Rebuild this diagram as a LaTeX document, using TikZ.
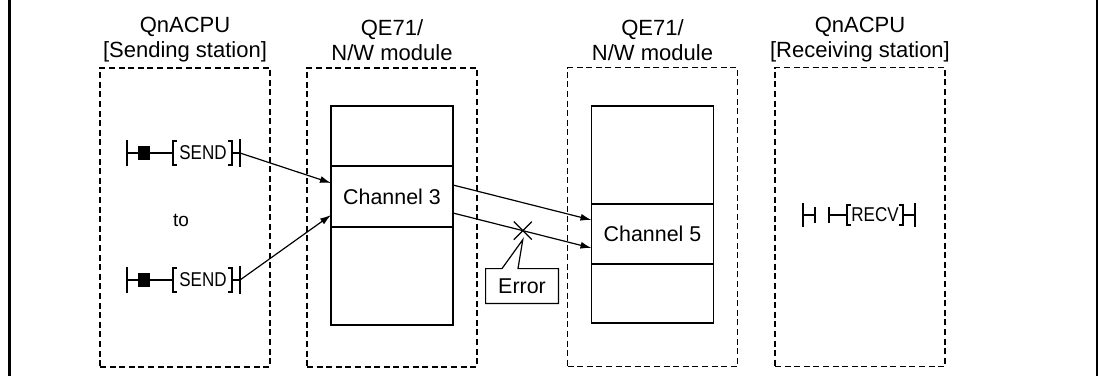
\documentclass[tikz,border=0pt]{standalone}
\usepackage{fontspec}
\setmainfont{Liberation Sans}
\newfontfamily\narrowsans[FakeStretch=0.85]{Liberation Sans}
\usetikzlibrary{positioning,arrows.meta}

\begin{document}
\begin{tikzpicture}[
  x=0.5pt, y=-0.5pt,
  zone/.style={draw, dash pattern=on 3pt off 1.8pt, line width=0.55pt, minimum width=85pt, minimum height=149.5pt, inner sep=0pt},
  title/.style={align=center, font=\fontsize{11}{12.5}\selectfont},
  cell/.style={draw, line width=0.7pt, minimum width=61pt, inner sep=0pt, outer sep=0pt, font=\fontsize{10.7}{12.5}\selectfont},
  instr/.style={inner sep=0pt, font=\narrowsans\fontsize{10}{11}\selectfont},
  rung/.style={line width=0.6pt},
  arr/.style={-{Latex[length=5.5pt,width=3.5pt]}, line width=0.6pt}
]
\useasboundingbox (0,0) rectangle (1099,376);
\draw[line width=1.5pt] (9,0) -- (9,376);
\draw[line width=0.8pt] (1097,0) -- (1097,376);

\node[zone] (sender) at (185,217.5) {};
\node[zone] (qeA) at (392,217.5) {};
\node[zone] (qeB) at (652.5,217) {};
\node[zone] (receiver) at (860,217) {};
\node[title] (tSender) at (185,40) {QnACPU\\{[Sending station]}};
\node[title] (tQeA) at (392,40) {QE71/\\N/W module};
\node[title] (tQeB) at (652.5,40) {QE71/\\N/W module};
\node[title] (tReceiver) at (860,40) {QnACPU\\{[Receiving station]}};

\node[cell, minimum height=30pt] (ch3top) at (392,136) {};
\node[cell, minimum height=30.5pt, below=0pt of ch3top] (ch3) {Channel 3};
\node[cell, minimum height=49pt, below=0pt of ch3] (ch3bot) {};
\node[cell, minimum height=49pt] (ch5top) at (652.5,155) {};
\node[cell, minimum height=30pt, below=0pt of ch5top] (ch5) {Channel 5};
\node[cell, minimum height=29.5pt, below=0pt of ch5] (ch5bot) {};

\foreach \y/\n in {153/1,280/2} {
  \draw[rung] (127,\y-13) -- (127,\y+13);
  \draw[rung] (127,\y) -- (173,\y);
  \fill (138,\y-7) rectangle (150,\y+7);
  \draw[rung] (177,\y-12) -- (173,\y-12) -- (173,\y+12) -- (177,\y+12);
  \node[instr] (send\n) at (203,\y) {SEND};
  \draw[rung] (228,\y-12) -- (232,\y-12) -- (232,\y+12) -- (228,\y+12);
  \draw[rung] (232,\y) -- (240,\y);
  \draw[rung] (240,\y-14) -- (240,\y+14);
  \coordinate (out\n) at (240,\y);
}
\node[font=\fontsize{9.5}{11}\selectfont] (upto) at (181,220) {to};

\draw[arr] (out1) -- ([yshift=6.75pt]ch3.west);
\draw[arr] (out2) -- ([yshift=-9.25pt]ch3.west);
\draw[arr] ([yshift=5.75pt]ch3.east) -- ([yshift=7pt]ch5.west);
\draw[arr] ([yshift=-8.25pt]ch3.east) -- coordinate[pos=0.504] (fail) ([yshift=-7pt]ch5.west);
\draw[rung] (fail) ++(-9,-9) -- ++(18,18) (fail) ++(-9,9) -- ++(18,-18);

\node[inner sep=0pt, minimum width=36pt, minimum height=17pt, font=\fontsize{10.7}{12.5}\selectfont] (err) at (522,286) {Error};
\draw[rung] (err.north east) -- ([xshift=-2pt]err.north) -- ([yshift=-4.5pt]fail) -- ([xshift=-10pt]err.north) -- (err.north west) -- (err.south west) -- (err.south east) -- cycle;

\draw[rung] (803,203) -- (803,227);
\draw[rung] (803,215) -- (815,215);
\draw[rung] (815,207) -- (815,223);
\draw[rung] (829,207) -- (829,223);
\draw[rung] (829,215) -- (847,215);
\draw[rung] (851,205) -- (847,205) -- (847,225) -- (851,225);
\node[instr] (recv) at (875,215) {RECV};
\draw[rung] (899,205) -- (903,205) -- (903,225) -- (899,225);
\draw[rung] (903,215) -- (915,215);
\draw[rung] (915,203) -- (915,227);
\end{tikzpicture}
\end{document}
